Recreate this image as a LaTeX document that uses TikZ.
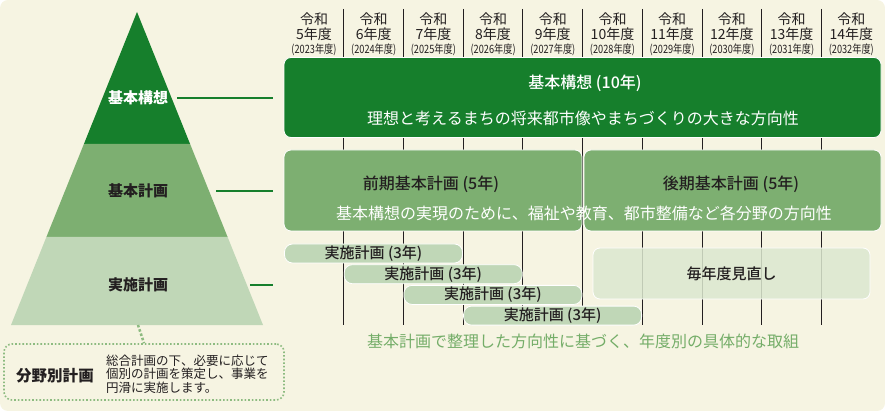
\documentclass[tikz,border=0pt]{standalone}
\usepackage{fontspec}
\setmainfont{Noto Sans CJK JP}
\newfontfamily\medfont{Noto Sans CJK JP Medium}
\usepackage{xcolor}
\usepackage{tikz}
\usetikzlibrary{positioning,calc}

\definecolor{bgcream}{HTML}{F6F4E2}
\definecolor{dkgreen}{HTML}{167F2C}
\definecolor{mdgreen}{HTML}{7DAF71}
\definecolor{ltgreen}{HTML}{C0D7B7}
\definecolor{palegreen}{HTML}{DCE8D0}
\definecolor{txtgreen}{HTML}{74AD68}
\definecolor{dotgreen}{HTML}{8DBB80}
\definecolor{textdark}{HTML}{231F20}

\begin{document}
\begin{tikzpicture}[x=1pt,y=-1pt,
  yearlbl/.style={align=center, inner sep=0pt, text=textdark, font=\fontsize{14}{14.5}\selectfont},
  sepline/.style={draw=textdark, line width=0.8pt},
  pyrlbl/.style={inner sep=1pt, text=textdark, font=\bfseries\fontsize{15}{18}\selectfont},
  linkline/.style={draw=dkgreen, line width=2pt, shorten >=11pt},
  barbox/.style={draw=white, line width=0.8pt, rounded corners=7pt, inner sep=0pt},
  bartitle/.style={inner sep=0pt, font=\medfont\fontsize{16}{18}\selectfont},
  bardesc/.style={inner sep=0pt, font=\fontsize{16}{18}\selectfont},
  pill/.style={draw=white, line width=0.8pt, fill=ltgreen, rounded corners=8pt, minimum width=178pt, minimum height=19pt, inner sep=0pt, text=textdark, font=\medfont\fontsize{15}{16}\selectfont},
  dotbox/.style={draw=dotgreen, dotted, line width=1.6pt, rounded corners=8pt, minimum width=280pt, minimum height=56pt, inner sep=0pt}]
\useasboundingbox (0,0) rectangle (885,411);
\fill[bgcream, rounded corners=8pt] (0,0) rectangle (885,411);

% Years
\foreach \i in {0,...,9}{
  \pgfmathtruncatemacro{\nen}{5+\i}
  \pgfmathtruncatemacro{\seireki}{2023+\i}
  \node[yearlbl] (yr\i) at ({314+59.7*\i},34.5) {令和\\\nen 年度\\\scalebox{0.8}[1]{\fontsize{11.5}{12}\selectfont(\seireki 年度)}};
}
\foreach \i in {1,...,9}
  \draw[sepline] ({284+59.7*\i},9) -- ({284+59.7*\i},325);

% Pyramid
\fill[dkgreen] (137,12) -- (190.1,144) -- (83.9,144) -- cycle;
\fill[mdgreen] (83.9,144) -- (190.1,144) -- (227.6,237) -- (46.4,237) -- cycle;
\fill[ltgreen] (46.4,237) -- (227.6,237) -- (263,325) -- (11,325) -- cycle;
\node[pyrlbl, text=white] (pKoso) at (138,98) {基本構想};
\node[pyrlbl] (pKeikaku) at (138,191) {基本計画};
\node[pyrlbl] (pJisshi) at (138,285) {実施計画};
\coordinate (eKoso) at (177,98);
\coordinate (eKeikaku) at (216,191);
\coordinate (eJisshi) at (250,285);
\coordinate (pBase) at (138,325);

% Bars
\node[barbox, fill=dkgreen, minimum width=597pt, minimum height=80pt] (bKoso) at (582.5,97.5) {};
\node[bartitle, text=white] (tKoso) at (585,83) {基本構想 (10年)};
\node[bardesc, text=white] (dKoso) at (583,118) {理想と考えるまちの将来都市像やまちづくりの大きな方向性};
\node[barbox, fill=mdgreen, minimum width=298pt, minimum height=81pt] (bZenki) at (433,190.5) {};
\node[barbox, fill=mdgreen, minimum width=297pt, minimum height=81pt] (bKoki) at (732.5,190.5) {};
\node[bartitle, text=textdark] (tZenki) at (431,184) {前期基本計画 (5年)};
\node[bartitle, text=textdark] (tKoki) at (731,184) {後期基本計画 (5年)};
\node[bardesc, text=white] (dKeikaku) at (584,213) {基本構想の実現のために、福祉や教育、都市整備など各分野の方向性};

% Pills
\foreach \i in {0,...,3}
  \node[pill] (pill\i) at ({373.5+59.7*\i},{253.5+20.7*\i}) {実施計画 (3年)};
\node[barbox, fill=palegreen, fill opacity=0.85, text opacity=1, minimum width=277pt, minimum height=51pt, text=textdark, font=\medfont\fontsize{15}{17}\selectfont] (bMainen) at (731.5,273.5) {毎年度見直し};
\node[bardesc, text=txtgreen] (nTorikumi) at (583,341) {基本計画で整理した方向性に基づく、年度別の具体的な取組};

% Links
\draw[linkline] (eKoso) -- (eKoso -| bKoso.west);
\draw[linkline] (eKeikaku) -- (eKeikaku -| bZenki.west);
\draw[linkline] (eJisshi) -- (eJisshi -| pill0.west);

% Bunya
\node[dotbox] (bBunya) at (144,372) {};
\draw[draw=dotgreen, dotted, line width=2.5pt] (pBase) -- (bBunya.north);
\node[inner sep=0pt, text=textdark, font=\bfseries\fontsize{15.5}{18}\selectfont] (tBunya) at (55,376) {分野別計画};
\node[anchor=west, align=left, inner sep=0pt, text=textdark, font=\fontsize{12.5}{13.5}\selectfont] (tBunyaDesc) at (106,374) {総合計画の下、必要に応じて\\個別の計画を策定し、事業を\\円滑に実施します。};
\end{tikzpicture}
\end{document}
